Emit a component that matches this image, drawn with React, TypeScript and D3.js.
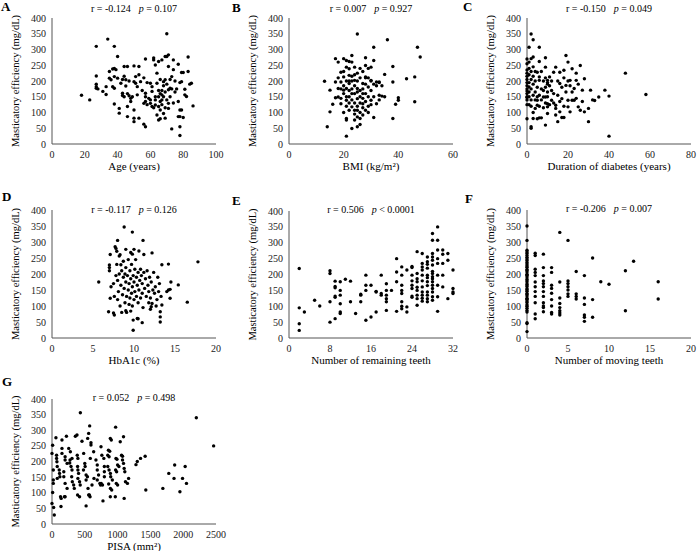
import { useEffect, useRef } from "react";
import * as d3 from "d3";

type Pt = [number, number];

// age (years) vs masticatory efficiency
const ageData: Pt[] = [
  [18,155],[23,140],[27,310],[27,216],[27,190],[27,182],[27,177],[28,175],[34,333],[38,310],[35,230],[35,209],
  [36,204],[33,182],[31,167],[33,157],[37,238],[38,240],[39,236],[38,214],[40,278],[40,209],[37,182],[38,177],
  [38,127],[41,113],[41,98],[44,246],[46,246],[43,205],[45,204],[42,193],[45,184],[43,161],[43,154],[44,150],
  [47,153],[46,119],[46,87],[48,135],[48,145],[49,150],[50,248],[51,214],[50,198],[51,193],[52,182],[52,156],
  [50,108],[50,82],[50,71],[53,246],[53,220],[53,82],[54,198],[57,270],[57,161],[57,150],[56,63],[57,55],
  [56,129],[57,135],[58,195],[60,193],[61,182],[59,145],[60,129],[62,273],[62,267],[63,251],[64,193],[65,262],
  [67,267],[69,278],[70,350],[71,283],[70,278],[74,267],[77,253],[83,276],[83,230],[79,227],[80,227],[78,195],
  [79,198],[81,174],[81,156],[82,151],[84,190],[85,193],[86,121],[78,108],[79,108],[77,135],[77,87],[78,87],
  [80,84],[78,55],[78,27],[73,48],[73,214],[74,236],[71,246],[71,172],[72,177],[73,175],[69,204],[68,198],
  [67,156],[68,150],[67,140],[66,135],[65,119],[66,108],[64,92],[65,76],[66,80],[68,97],[69,82],[70,140],
  [71,129],[71,113],[63,150],[63,140],[63,124],[61,167],[61,119],[65,150],[66,160],[67,170],[68,185],[70,190],
  [72,205],[75,165],[76,175],[66,205],[64,225],[62,115],[67,125],[69,115],[74,130],[72,150],[75,200],[60,140],
  [58,125],[55,170],[56,210],[47,200],[44,215],[46,160],[65,170],[69,165],
];

// BMI (kg/m2)
const bmiData: Pt[] = [
  [14,55],[13,199],[15,102],[15,171],[16,126],[17,197],[17,147],[17,271],[18,260],[18,176],[18,149],[19,128],
  [19,228],[19,197],[20,171],[20,213],[21,244],[20,271],[21,265],[21,176],[21,139],[21,81],[21,76],[21,25],
  [22,107],[22,239],[22,218],[22,192],[23,160],[22,262],[23,260],[23,281],[23,118],[24,107],[23,49],[24,76],
  [24,244],[24,202],[25,349],[25,176],[25,144],[25,107],[25,86],[25,55],[26,81],[27,192],[27,160],[27,128],
  [28,249],[28,213],[28,274],[28,107],[29,181],[30,139],[30,244],[30,202],[31,307],[31,265],[31,84],[32,197],
  [33,197],[33,155],[34,152],[32,128],[35,221],[36,331],[38,246],[38,197],[39,126],[38,81],[40,147],[40,139],
  [43,207],[46,213],[46,134],[47,307],[48,276],
  [20,185],[21,200],[22,170],[22,150],[23,175],[23,200],[23,215],[24,160],[24,130],[24,185],[25,120],[25,200],
  [25,225],[26,150],[26,170],[26,210],[26,100],[26,130],[27,145],[27,115],[27,175],[27,230],[28,160],[28,135],
  [28,190],[29,120],[29,150],[29,210],[29,100],[30,170],[30,125],[31,190],[31,150],[32,185],[33,140],[20,160],
  [21,120],[22,130],[19,175],[20,230],[24,95],[26,62],[27,92],[29,240],[30,200],[33,195],[34,185],[28,210],
  [26,240],[22,200],[23,140],[24,220],[25,165],[21,150],[20,100],[19,145],[18,210],[35,150],
];

// duration of diabetes (years)
const durationData: Pt[] = [
  [0,80],[0,125],[0,140],[0,150],[0,160],[0,168],[0,175],[0,185],[0,195],[0,205],[0,215],[0,235],[0,270],
  [0,255],[0,225],[0,148],
  [1,307],[2,349],[1,181],[2,55],[2,50],[2,271],[3,276],[3,331],[6,307],[3,81],[4,113],[5,123],[5,139],
  [5,228],[6,213],[6,202],[6,262],[6,83],[7,83],[8,149],[9,149],[9,274],[9,244],[9,180],[10,190],[10,202],
  [10,195],[9,60],[10,118],[10,128],[10,97],[11,213],[12,139],[13,228],[14,113],[14,92],[14,244],[14,123],
  [15,71],[16,192],[16,228],[17,144],[16,102],[17,84],[18,84],[19,281],[19,186],[18,234],[19,165],[20,260],
  [20,200],[21,202],[20,139],[20,118],[21,102],[22,139],[22,239],[23,176],[24,202],[24,225],[23,139],[25,118],
  [26,249],[26,107],[27,171],[28,207],[28,102],[30,113],[30,71],[31,171],[32,140],[33,138],[35,149],[38,171],
  [40,152],[40,25],[48,225],[58,157],
  [1,125],[1,150],[1,165],[1,195],[1,220],[1,240],[1,260],[2,140],[2,175],[2,205],[2,230],[2,120],[3,155],
  [3,190],[3,215],[3,245],[3,100],[4,140],[4,165],[4,200],[4,230],[5,180],[5,150],[5,80],[6,120],[6,155],
  [7,140],[7,175],[7,230],[8,200],[8,115],[8,170],[9,130],[9,210],[10,150],[10,165],[11,185],[11,125],
  [12,200],[12,170],[13,130],[13,160],[15,155],[15,200],[16,135],[17,180],[18,210],[18,120],[21,185],[22,165],
  [24,145],[25,190],[27,135],
];

// HbA1c (%)
const hba1cData: Pt[] = [
  [5.7,175],[6.9,82],[7,210],[7,220],[7,228],[7.1,261],[7.1,124],[7.5,78],[7.6,72],[7.7,285],[7.8,280],
  [7.9,271],[8,305],[8.2,256],[8.4,229],[8.8,347],[9.8,331],[9,277],[9.6,267],[9.8,262],[10,277],[9.6,84],
  [9.9,56],[10.4,61],[11,48],[9.9,24],[11.1,305],[10.6,272],[11.2,261],[12.2,266],[13.4,229],[14.2,231],
  [13.2,82],[13.2,66],[13.2,50],[13.4,103],[14,145],[14.2,150],[14.4,152],[14.5,175],[14.4,124],[15.4,166],
  [17.8,238],[16.5,112],[11.8,110],[12.2,108],[12,90],[12.1,98],
  [7.2,160],[7.5,170],[7.6,130],[7.8,195],[7.9,230],[8,120],[8,180],[8.1,145],[8.2,200],[8.3,100],[8.4,165],
  [8.5,210],[8.5,80],[8.6,135],[8.7,190],[8.7,240],[8.8,155],[8.9,110],[8.9,200],[9,175],[9,220],[9.1,130],
  [9.1,80],[9.2,195],[9.3,150],[9.3,245],[9.4,105],[9.4,170],[9.5,210],[9.5,125],[9.6,185],[9.7,140],
  [9.7,230],[9.8,160],[9.8,100],[9.9,195],[10,120],[10,175],[10.1,215],[10.1,145],[10.2,245],[10.3,130],
  [10.3,190],[10.4,165],[10.5,110],[10.5,205],[10.6,150],[10.7,180],[10.8,125],[10.8,215],[10.9,195],[11,140],
  [11,170],[11.1,95],[11.2,205],[11.3,155],[11.4,185],[11.5,130],[11.6,210],[11.7,165],[11.8,145],[11.9,190],
  [12,125],[12.1,175],[12.3,150],[12.4,205],[12.5,140],[12.6,160],[12.8,120],[12.9,190],[13,145],[13.1,170],
  [13.3,130],[12.7,100],[8.3,260],[9,85],[10.5,60],
];

// number of remaining teeth
const remainingData: Pt[] = [
  [2,219],[2,95],[2,45],[2,24],[3,82],[5,119],[6,101],[8,212],[8,203],[8,114],[8,50],[9,179],[9,162],[9,158],
  [9,132],[9,128],[9,61],[10,177],[10,150],[10,135],[10,108],[10,82],[10,77],[11,185],[12,179],[12,114],
  [13,77],[14,135],[14,138],[14,114],[15,198],[15,166],[15,150],[15,56],[16,66],[16,166],[17,147],[17,145],
  [17,82],[18,198],[18,140],[18,135],[19,171],[19,150],[19,135],[19,124],[19,114],[19,87],[20,150],[21,250],
  [21,208],[21,177],[21,84],[22,224],[22,198],[22,166],[22,150],[22,140],[22,114],[22,100],[22,92],[23,214],
  [23,98],[23,82],[24,225],[24,222],[24,198],[24,166],[24,156],[24,132],[24,128],[25,272],[25,203],[25,187],
  [25,177],[25,150],[25,135],[25,124],[25,103],[26,266],[26,235],[26,224],[26,214],[26,198],[26,161],[26,145],
  [26,135],[26,116],[27,255],[27,240],[27,232],[27,220],[27,198],[27,177],[27,145],[27,135],[27,124],[27,114],
  [28,329],[28,308],[28,266],[28,255],[28,245],[28,203],[28,193],[28,187],[28,177],[28,166],[28,156],[28,145],
  [28,130],[28,119],[29,350],[29,308],[29,277],[29,250],[29,235],[29,198],[29,166],[29,130],[29,84],[30,277],
  [30,264],[30,235],[30,198],[30,161],[31,266],[31,245],[31,124],[32,214],[32,156],[32,145],[32,140],[26,180],
  [27,165],[27,190],[28,210],[28,230],[24,180],[25,160],[26,125],
];

// number of moving teeth
const movingData: Pt[] = [
  [0,20],[0,45],[0,48],[0,81],[0,86],[0,93],[0,99],[0,104],[0,111],[0,116],[0,121],[0,124],[0,131],[0,136],
  [0,139],[0,146],[0,151],[0,154],[0,161],[0,166],[0,169],[0,176],[0,181],[0,184],[0,191],[0,196],[0,199],
  [0,206],[0,211],[0,214],[0,221],[0,226],[0,231],[0,236],[0,242],[0,247],[0,252],[0,258],[0,264],[0,269],
  [0,274],[0,305],[0,350],
  [1,60],[1,75],[1,110],[1,130],[1,145],[1,160],[1,175],[1,195],[1,205],[1,215],[1,258],[1,265],
  [2,82],[2,95],[2,100],[2,110],[2,130],[2,145],[2,160],[2,170],[2,178],[2,195],[2,220],[2,262],
  [3,75],[3,80],[3,100],[3,120],[3,140],[3,155],[3,165],[3,205],[3,220],
  [4,72],[4,78],[4,85],[4,95],[4,108],[4,125],[4,175],[4,330],
  [5,130],[5,138],[5,150],[5,160],[5,170],[5,178],[5,305],
  [6,122],[6,130],[6,138],[6,208],
  [7,52],[7,65],[7,72],[7,105],[7,125],[7,195],
  [8,65],[8,120],[8,250],[9,176],[10,168],[12,85],[12,210],[13,240],[16,122],[16,176],
];

// PISA (mm2)
const pisaData: Pt[] = [
  [0,226],[10,252],[20,173],[20,141],[20,130],[10,101],[0,66],[25,53],[35,29],[60,276],[70,220],[70,210],
  [75,199],[110,173],[115,162],[120,151],[80,184],[80,146],[140,82],[130,87],[137,56],[152,226],[152,242],
  [152,269],[200,215],[200,205],[230,194],[180,167],[180,151],[200,130],[230,114],[190,87],[200,87],[255,242],
  [280,231],[275,205],[270,195],[290,184],[305,173],[300,151],[310,135],[330,125],[340,114],[305,210],[220,281],
  [356,281],[385,220],[395,210],[390,184],[395,173],[405,162],[395,146],[420,135],[430,125],[432,356],[457,265],
  [483,226],[500,194],[505,184],[480,173],[520,157],[540,151],[520,141],[390,93],[420,87],[520,58],[381,285],
  [544,274],[559,290],[574,314],[594,260],[594,253],[584,210],[549,114],[559,93],[635,231],[670,205],[690,189],
  [690,173],[710,157],[730,130],[740,125],[690,141],[640,146],[610,125],[570,93],[580,87],[747,247],[760,220],
  [790,210],[798,167],[798,151],[750,130],[770,125],[777,74],[798,184],[860,236],[880,233],[850,220],[870,215],
  [850,184],[870,173],[890,162],[895,151],[920,141],[864,128],[890,114],[910,109],[889,87],[889,274],[904,269],
  [970,310],[975,210],[990,207],[1000,189],[1020,184],[970,173],[985,167],[980,130],[1000,125],[965,87],
  [1090,279],[1040,263],[1060,220],[1075,217],[1075,205],[1090,194],[1100,178],[1110,167],[1120,135],[1150,130],
  [1100,82],[1168,146],[1280,190],[1300,200],[1350,210],[1420,217],[1430,109],[1690,114],[1780,162],[1860,146],
  [1870,189],[1950,103],[1990,146],[2030,184],[2050,130],[2200,340],[2464,250],
];

const yTicks = [0, 50, 100, 150, 200, 250, 300, 350, 400];
const rValues = ["-0.124", "0.007", "-0.150", "-0.117", "0.506", "-0.206", "0.052"];
const pValues = ["= 0.107", "= 0.927", "= 0.049", "= 0.126", "< 0.0001", "= 0.007", "= 0.498"];
const xTitles = ["Age (years)", "BMI (kg/m\u00b2)", "Duration of diabetes (years)", "HbA1c (%)",
  "Number of remaining teeth", "Number of moving teeth", "PISA (mm\u00b2)"];
const xTickSets = [
  [0, 20, 40, 60, 80, 100], [0, 20, 40, 60], [0, 20, 40, 60, 80], [0, 5, 10, 15, 20],
  [0, 8, 16, 24, 32], [0, 5, 10, 15, 20], [0, 500, 1000, 1500, 2000, 2500],
];
const panelLabels = ["A", "B", "C", "D", "E", "F", "G"];
const datasets = [ageData, bmiData, durationData, hba1cData, remainingData, movingData, pisaData];

// plot frames: left, top (y=400), bottom (y=0), title baseline, label pos
const frames = [
  { x0: 52, top: 18, bottom: 144, ty: 12, lx: 1, ly: 11 },
  { x0: 289, top: 18, bottom: 144, ty: 12, lx: 232, ly: 12 },
  { x0: 527, top: 18, bottom: 144, ty: 12, lx: 463, ly: 11 },
  { x0: 52, top: 210, bottom: 338, ty: 213, lx: 2, ly: 201 },
  { x0: 289, top: 211, bottom: 338, ty: 213, lx: 232, ly: 205 },
  { x0: 527, top: 210, bottom: 338, ty: 212, lx: 465, ly: 203 },
  { x0: 52, top: 399, bottom: 524, ty: 401, lx: 2, ly: 386 },
];
const plotW = 164;
const font = "'Liberation Serif', 'Times New Roman', serif";

export default function App() {
  const ref = useRef<SVGSVGElement>(null);

  useEffect(() => {
    document.body.style.margin = "0";
    const svg = d3.select(ref.current);
    svg.selectAll("*").remove();
    svg.append("rect").attr("width", 700).attr("height", 551).attr("fill", "#fff");

    frames.forEach((f, i) => {
      const xt = xTickSets[i];
      const x = d3.scaleLinear().domain([0, xt[xt.length - 1]]).range([f.x0, f.x0 + plotW]);
      const y = d3.scaleLinear().domain([0, 400]).range([f.bottom, f.top]);
      const g = svg.append("g").style("font-family", font);

      g.append("text").attr("x", f.lx).attr("y", f.ly).text(panelLabels[i])
        .style("font-size", "13px").style("font-weight", "bold");

      const t = g.append("text").attr("x", f.x0 + plotW / 2).attr("y", f.ty)
        .attr("text-anchor", "middle").style("font-size", "10px");
      t.append("tspan").text(`r = ${rValues[i]}`);
      t.append("tspan").attr("dx", 8).style("font-style", "italic").text("p");
      t.append("tspan").text(` ${pValues[i]}`);

      g.selectAll(".yt").data(yTicks).enter().append("text")
        .attr("x", f.x0 - 6).attr("y", d => y(d) + 3.5).attr("text-anchor", "end")
        .style("font-size", "10px").attr("fill", "#222").text(d => d);

      g.selectAll(".xt").data(xt).enter().append("text")
        .attr("x", d => x(d)).attr("y", f.bottom + 14).attr("text-anchor", "middle")
        .style("font-size", "10px").attr("fill", "#222").text(d => d);

      g.append("line").attr("x1", f.x0).attr("x2", f.x0).attr("y1", f.top).attr("y2", f.bottom)
        .attr("stroke", "#555").attr("stroke-width", 1);
      g.append("line").attr("x1", f.x0).attr("x2", f.x0 + plotW).attr("y1", f.bottom).attr("y2", f.bottom)
        .attr("stroke", "#555").attr("stroke-width", 1);

      g.append("text").attr("x", f.x0 + plotW / 2).attr("y", f.bottom + 26).attr("text-anchor", "middle")
        .style("font-size", "11px").text(xTitles[i]);

      const cy = (f.top + f.bottom) / 2;
      g.append("text").attr("transform", `translate(${f.x0 - 33},${cy}) rotate(-90)`)
        .attr("text-anchor", "middle").style("font-size", "10.5px").text("Masticatory efficiency (mg/dL)");

      g.selectAll(".dot").data(datasets[i]).enter().append("circle")
        .attr("cx", d => x(d[0])).attr("cy", d => y(d[1])).attr("r", 1.7).attr("fill", "#000");
    });
  }, []);

  return <svg ref={ref} width={700} height={551} style={{ display: "block" }} />;
}
